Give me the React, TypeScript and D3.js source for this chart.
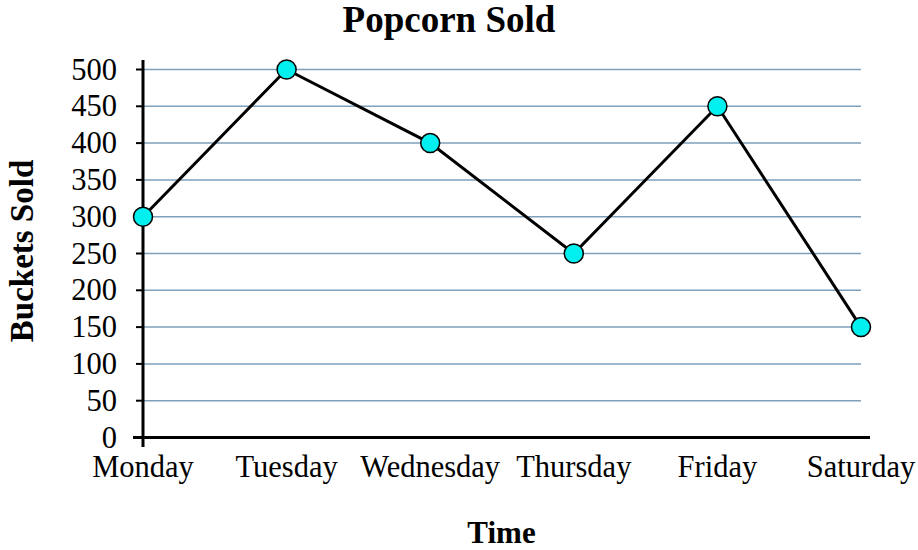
import React from "react";
import * as d3 from "d3";

const categories = ["Monday", "Tuesday", "Wednesday", "Thursday", "Friday", "Saturday"];
const values = [300, 500, 400, 250, 450, 150];
const yTicks = [0, 50, 100, 150, 200, 250, 300, 350, 400, 450, 500];

const W = 918;
const H = 550;
const FONT = "'Liberation Serif', 'Times New Roman', serif";

export default function App() {
  const x = d3.scalePoint<string>().domain(categories).range([143, 861]);
  const y = d3.scaleLinear().domain([0, 500]).range([437.5, 69.5]);
  const line = d3
    .line<number>()
    .x((_, i) => x(categories[i]) as number)
    .y((d) => y(d));

  return (
    <div style={{ position: "fixed", left: 0, top: 0 }}>
      <svg width={W} height={H} style={{ display: "block", background: "#fff" }}>
        {/* gridlines */}
        {yTicks.filter((t) => t > 0).map((t) => (
          <line key={t} x1={143} x2={861} y1={y(t)} y2={y(t)} stroke="#7f9fba" strokeWidth={1.5} />
        ))}
        {/* y axis */}
        <line x1={143} x2={143} y1={60} y2={447} stroke="#000" strokeWidth={3} />
        {yTicks.map((t) => (
          <line key={"t" + t} x1={136} x2={143} y1={y(t)} y2={y(t)} stroke="#000" strokeWidth={2} />
        ))}
        {/* x axis */}
        <line x1={133} x2={870} y1={y(0)} y2={y(0)} stroke="#000" strokeWidth={3} />
        {/* y tick labels */}
        {yTicks.map((t) => (
          <text key={"l" + t} x={117} y={y(t) + 10} textAnchor="end" fontFamily={FONT} fontSize={30.5} fill="#000">
            {t}
          </text>
        ))}
        {/* x tick labels */}
        {categories.map((c) => (
          <text key={c} x={x(c)} y={477} textAnchor="middle" fontFamily={FONT} fontSize={30.5} fill="#000">
            {c}
          </text>
        ))}
        {/* line */}
        <path d={line(values) || ""} fill="none" stroke="#000" strokeWidth={3} />
        {values.map((v, i) => (
          <circle key={i} cx={x(categories[i])} cy={y(v)} r={9.5} fill="#00f0f0" stroke="#000" strokeWidth={1.5} />
        ))}
        {/* title */}
        <text x={449} y={32} textAnchor="middle" fontFamily={FONT} fontSize={37} fontWeight="bold" fill="#000">
          Popcorn Sold
        </text>
        <text x={501.5} y={543} textAnchor="middle" fontFamily={FONT} fontSize={31} fontWeight="bold" fill="#000">
          Time
        </text>
        <text
          transform={`translate(33,251) rotate(-90)`}
          textAnchor="middle"
          fontFamily={FONT}
          fontSize={33}
          fontWeight="bold"
          fill="#000"
        >
          Buckets Sold
        </text>
      </svg>
    </div>
  );
}
